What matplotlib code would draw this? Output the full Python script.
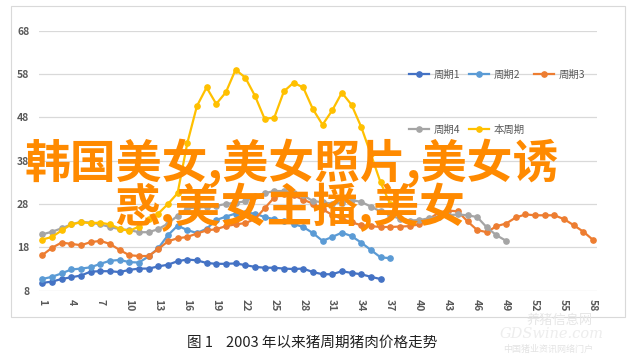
import numpy as np
import matplotlib.pyplot as plt
from matplotlib.patches import Rectangle

plt.rcParams['font.family'] = ['Noto Sans CJK SC', 'DejaVu Sans']

# series values, week index starts at 1
zhouqi1 = [9.8, 10.1, 10.7, 11.1, 11.5, 12.4, 12.5, 12.5, 12.3, 12.8,
           13.1, 13.1, 13.6, 14.0, 14.8, 15.2, 15.0, 14.4, 14.2, 14.2,
           14.3, 13.9, 13.5, 13.3, 13.3, 13.1, 13.0, 13.1, 12.3, 11.8,
           11.8, 12.5, 12.1, 11.8, 11.2, 10.7]
zhouqi2 = [10.7, 11.2, 12.0, 12.9, 13.1, 13.4, 14.2, 14.9, 15.1, 14.6,
           14.5, 15.9, 17.8, 20.8, 23.0, 22.0, 21.3, 22.3, 24.3, 25.1,
           25.8, 26.0, 25.8, 25.0, 24.5, 24.1, 23.4, 22.7, 21.3, 19.5,
           20.4, 21.4, 20.6, 19.1, 17.4, 15.7, 15.5]
zhouqi3 = [16.2, 17.9, 19.1, 18.8, 18.5, 19.2, 19.5, 18.8, 17.4, 16.2,
           16.0, 16.0, 17.6, 19.4, 20.1, 20.4, 21.2, 21.9, 22.2, 22.9,
           23.3, 23.6, 24.5, 27.0, 29.5, 30.3, 30.0, 29.0, 28.1, 26.8,
           25.5, 24.6, 23.8, 23.1, 22.9, 22.7, 22.7, 22.8, 22.9, 23.3,
           24.5, 26.0, 26.5, 26.3, 24.0, 22.0, 21.5, 22.9, 23.5, 24.9,
           25.6, 25.4, 25.4, 25.4, 24.5, 23.1, 21.6, 19.7]
zhouqi4 = [21.0, 21.6, 22.4, 23.3, 23.9, 23.7, 23.3, 22.7, 22.2, 22.0,
           21.5, 21.5, 22.2, 23.5, 25.3, 27.0, 27.2, 27.3, 27.6, 28.0,
           28.3, 28.6, 29.8, 30.5, 31.0, 31.0, 30.6, 30.0, 28.7, 28.4,
           28.1, 28.3, 28.9, 28.5, 27.4, 26.3, 25.4, 24.6, 24.2, 24.3,
           24.7, 25.1, 25.4, 25.6, 25.4, 25.0, 22.6, 20.8, 19.5]
benzhouqi = [19.8, 20.4, 21.9, 23.3, 23.8, 23.6, 23.7, 23.3, 22.3, 21.8,
             22.8, 24.6, 25.8, 28.0, 30.5, 42.0, 50.6, 54.9, 51.1, 53.8,
             59.0, 57.2, 53.0, 47.7, 47.9, 54.0, 56.0, 54.9, 49.9, 46.3,
             49.6, 53.7, 50.9, 45.8, 39.5, 33.0, 28.0]

series_names = ['周期1', '周期2', '周期3', '周期4', '本周期']
series_colors = ['#4472C4', '#5B9BD5', '#ED7D31', '#A5A5A5', '#FFC000']
y_ticks = [8, 18, 28, 38, 48, 58, 68]
x_ticks = list(range(1, 59, 3))

caption = '图 1    2003 年以来猪周期猪肉价格走势'
overlay1 = '韩国美女,美女照片,美女诱'
overlay2 = '惑,美女主播,美女'

fig = plt.figure(figsize=(6.34, 3.58), dpi=100)
W, H = 634, 358

# outer chart box
fig.patches.append(Rectangle((11 / W, 1 - 317 / H), 614 / W, 311 / H,
                             transform=fig.transFigure, fill=False,
                             edgecolor='#D9D9D9', linewidth=0.8))

ax = fig.add_axes([39 / W, 1 - 290.7 / H, 558 / W, 260 / H])
ax.set_xlim(0.66, 58.4)
ax.set_ylim(8, 68)

handles = []
for vals, name, col in zip([zhouqi1, zhouqi2, zhouqi3, zhouqi4, benzhouqi],
                           series_names, series_colors):
    xs = np.arange(1, len(vals) + 1)
    h, = ax.plot(xs, vals, color=col, lw=1.6, marker='o', ms=3.8,
                 label=name, zorder=3)
    handles.append(h)

ax.set_yticks(y_ticks)
ax.set_xticks(x_ticks)
ax.set_xticklabels([str(t) for t in x_ticks], rotation=-90)
ax.tick_params(length=0, labelsize=7.5, labelcolor='#595959')
ax.tick_params(axis='y', pad=7)
ax.tick_params(axis='x', pad=6)
for lab in ax.get_xticklabels() + ax.get_yticklabels():
    lab.set_fontweight('bold')
ax.grid(axis='y', color='#D9D9D9', lw=0.9)
for s in ax.spines.values():
    s.set_visible(False)
ax.set_axisbelow(True)

# legend laid out row by row
order = [0, 3, 1, 4, 2]
leg = ax.legend([handles[i] for i in order], [series_names[i] for i in order],
                ncol=3, frameon=False, fontsize=7.5, labelcolor='#595959',
                handlelength=1.9, handletextpad=0.45, columnspacing=0.9,
                labelspacing=4.3, borderpad=0, borderaxespad=0,
                loc='upper left', bbox_to_anchor=(409 / W, 1 - 70 / H),
                bbox_transform=fig.transFigure)

# caption
fig.text(312 / W, 1 - 343 / H, caption, ha='center', va='center',
         fontsize=10.5, color='#222222')

# faint watermark, kept just under the tick labels
fig.text(560 / W, 1 - 320 / H, '养猪信息网', ha='center', va='center',
         fontsize=9.5, color='#E6E6E6', zorder=1)
fig.text(552 / W, 1 - 334 / H, 'GDSwine.com', ha='center', va='center',
         fontsize=10.5, color='#EDEDED', style='italic', family='DejaVu Serif',
         zorder=1)
fig.text(548 / W, 1 - 349 / H, '中国猪业资讯网络门户', ha='center', va='center',
         fontsize=6.5, color='#E3E3E3', zorder=1)

# overlay text
fig.text(25 / W, 1 - 163 / H, overlay1, ha='left', va='center',
         fontsize=33, fontweight='bold', color='#FF8A00', zorder=10)
fig.text(114 / W, 1 - 207 / H, overlay2, ha='left', va='center',
         fontsize=33, fontweight='bold', color='#FF8A00', zorder=10)

fig.savefig('out.png', dpi=100)
